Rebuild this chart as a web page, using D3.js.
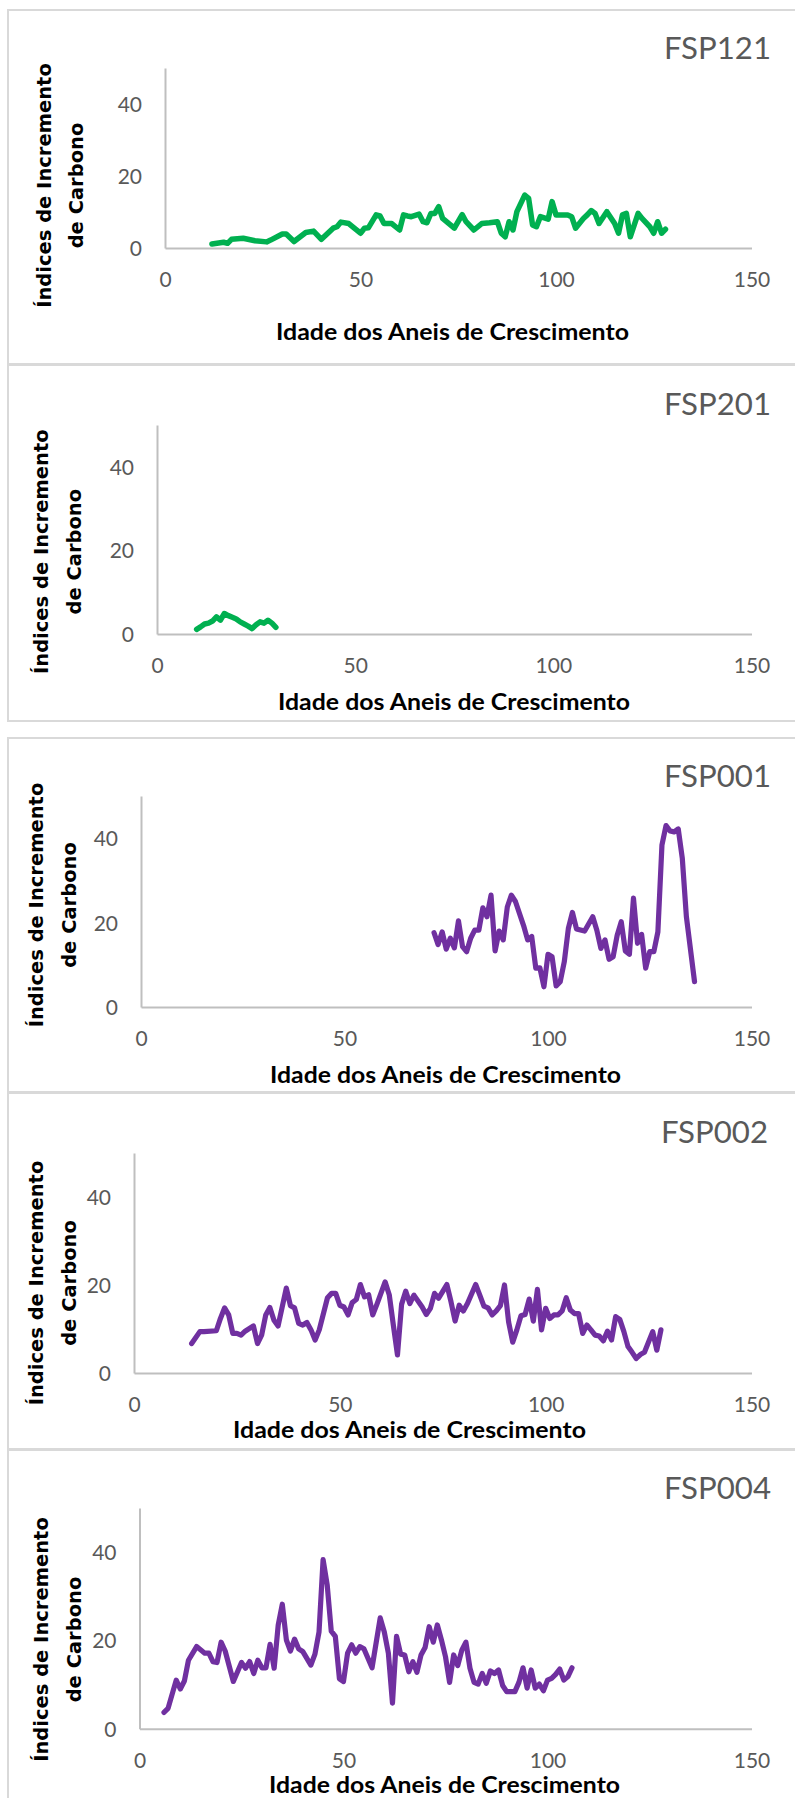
<!DOCTYPE html>
<html>
<head>
<meta charset="utf-8">
<script src="https://cdn.jsdelivr.net/npm/d3@7/dist/d3.min.js"></script>
<style>
  html, body { margin: 0; padding: 0; background: #fff; }
  svg { display: block; }
</style>
</head>
<body>
<svg id="chart" width="795" height="1798"></svg>
<script>
// Shared axis ticks
const xTicks = [0, 50, 100, 150];
const yTicks = [0, 20, 40];
const xDomain = [0, 150];
const yDomain = [0, 50];

const xAxisTitle = "Idade dos Aneis de Crescimento";
const yAxisTitle = ["Índices de Incremento", "de Carbono"];

// FSP121
const ages121 = [12,15,16,17,20,23,26,27,30,31,33,36,38,40,43,44,45,47,50,51,52,54,55,56,58,60,61,62,63,65,66,67,68,69,70,71,72,74,76,77,79,81,83,85,86,87,88,89,90,92,93,94,95,96,98,99,100,103,104,105,107,108,109,110,111,113,115,116,117,118,119,121,122,124,125,126,127,128];
const vals121 = [1.1,1.6,1.3,2.4,2.7,2.0,1.7,2.2,3.9,3.9,1.8,4.3,4.7,2.4,5.5,5.9,7.2,6.8,4.1,5.5,5.6,9.2,8.9,6.8,6.8,5.0,9.2,8.9,8.7,9.4,7.3,7.0,9.6,9.6,11.5,8.2,7.3,5.5,9.3,7.3,5.0,6.8,7.0,7.3,4.1,3.1,7.3,5.0,10.1,14.7,13.8,6.4,5.9,8.7,8.0,12.9,9.2,9.2,8.7,5.5,8.2,9.2,10.4,9.6,6.8,10.1,6.8,4.1,9.2,9.6,3.1,9.6,8.2,5.9,4.1,7.3,4.1,5.2];

// FSP201
const ages201 = [10,11,12,13,14,15,16,17,18,19,20,21,22,23,24,25,26,27,28,29,30];
const vals201 = [1.1,1.7,2.4,2.6,3.1,4.1,3.3,4.9,4.4,4.0,3.6,2.9,2.4,1.9,1.3,2.2,2.9,2.6,3.3,2.6,1.6];

// FSP001
const ages001 = [72,73,74,75,76,77,78,79,80,81,82,83,84,85,86,87,88,89,90,91,92,94,95,96,97,98,99,100,101,102,103,104,105,106,107,109,111,112,113,114,115,116,117,118,119,120,121,122,123,124,125,126,127,128,129,130,131,132,133,134,136];
const vals001 = [17.6,14.8,17.8,13.7,16.3,14.0,20.4,14.3,13.1,16.3,18.2,18.2,23.5,21.4,26.5,13.3,18.0,15.9,23.7,26.5,25.0,19.3,15.9,16.7,9.2,9.3,4.8,12.5,11.9,5.0,6.0,10.7,18.6,22.4,18.5,18.0,21.4,18.2,13.9,15.9,11.3,11.9,17.0,20.2,13.3,12.5,25.8,15.1,17.2,9.2,13.1,13.1,17.8,38.4,43.0,41.7,41.5,42.2,35.2,21.4,6.0];

// FSP002
const ages002 = [14,16,17,20,21,22,23,24,25,26,27,29,30,31,32,33,34,35,36,37,38,39,40,41,42,43,44,45,47,48,49,50,51,52,53,54,55,56,57,58,59,61,62,63,64,65,66,67,68,70,71,72,73,74,76,77,78,79,80,81,83,84,85,86,87,88,89,90,91,92,93,94,95,96,97,98,99,100,101,102,103,104,105,106,107,108,109,110,111,112,113,114,115,116,117,118,119,120,121,122,123,124,126,127,128];
const vals002 = [6.7,9.4,9.4,9.6,12.4,14.8,13.2,9.0,9.0,8.6,9.5,10.7,6.7,8.6,13.2,14.9,12.0,10.7,15.0,19.3,15.3,14.8,11.3,10.9,11.5,9.8,7.5,9.8,17.1,18.1,18.1,15.4,15.0,13.2,16.0,16.7,20.1,17.3,17.8,13.2,15.6,20.7,17.8,10.9,4.1,15.6,18.6,15.8,17.7,15.0,13.3,14.7,18.1,17.0,20.1,16.2,11.8,15.4,14.1,15.8,20.1,17.7,15.2,14.8,13.2,14.1,15.3,20.0,11.6,7.0,9.8,13.0,13.3,16.8,11.8,19.0,9.8,14.7,12.4,13.2,13.2,14.1,17.1,14.3,13.5,13.5,9.0,10.9,9.8,8.6,8.4,7.3,9.5,7.5,12.8,12.2,9.4,6.0,4.7,3.3,4.2,4.7,9.4,5.2,9.8];

// FSP004
const ages004 = [6,7,9,10,11,12,14,16,17,18,19,20,21,23,25,26,27,28,29,30,31,32,33,34,35,36,37,38,39,40,42,43,44,45,46,47,48,49,50,51,52,53,54,55,57,59,60,61,62,63,64,65,66,67,68,69,70,71,72,73,74,75,76,77,78,79,80,81,82,83,84,85,86,87,88,89,90,92,93,94,95,96,97,98,99,100,101,102,103,104,105,106];
const vals004 = [3.7,4.6,11.0,9.0,10.8,15.5,18.6,17.1,17.1,15.2,15.0,19.6,17.6,10.7,15.0,13.7,15.2,12.5,15.5,13.8,13.8,19.1,13.7,23.5,28.2,20.1,17.6,20.3,18.1,17.5,14.4,16.9,21.9,38.3,32.6,22.1,20.9,11.3,10.7,17.1,19.0,17.1,18.6,18.1,13.8,25.1,21.9,17.1,5.8,20.9,16.9,16.7,12.9,15.2,12.8,16.7,18.4,23.1,19.6,23.5,20.1,16.3,10.5,16.7,14.3,17.8,19.6,13.7,10.5,10.1,12.5,10.3,13.1,12.5,13.3,9.8,8.4,8.4,10.5,13.8,9.2,13.3,9.2,10.1,8.6,11.0,11.4,12.3,13.5,11.0,11.8,13.8];

const GREEN = "#00b050";
const PURPLE = "#7030a0";

// Panel frames and plot boxes (page layout)
const panels = [
  { name: "FSP121", ages: ages121, vals: vals121, color: GREEN, width: 5.5,
    top: 10, bottom: 364, left: 165, plotTop: 68, plotBottom: 248,
    titleY: 59, titleRight: 771, yl: [51, 83], ylMid: 185.5, xlY: 340, xlX: [276, 629] },
  { name: "FSP201", ages: ages201, vals: vals201, color: GREEN, width: 5.5,
    top: 365, bottom: 721, left: 157, plotTop: 425, plotBottom: 634,
    titleY: 415, titleRight: 771, yl: [48, 81], ylMid: 551.7, xlY: 710, xlX: [278, 630] },
  { name: "FSP001", ages: ages001, vals: vals001, color: PURPLE, width: 5.2,
    top: 738, bottom: 1092, left: 141, plotTop: 796, plotBottom: 1007,
    titleY: 786.7, titleRight: 771, yl: [43, 76], ylMid: 905, xlY: 1082.7, xlX: [270, 621] },
  { name: "FSP002", ages: ages002, vals: vals002, color: PURPLE, width: 5.2,
    top: 1093, bottom: 1449, left: 134, plotTop: 1153, plotBottom: 1373,
    titleY: 1142.7, titleRight: 768, yl: [43, 76], ylMid: 1283, xlY: 1438, xlX: [233, 586] },
  { name: "FSP004", ages: ages004, vals: vals004, color: PURPLE, width: 5.2,
    top: 1450, bottom: 1900, left: 139.5, plotTop: 1508, plotBottom: 1728.7,
    titleY: 1499, titleRight: 771, yl: [48, 81], ylMid: 1639.5, xlY: 1793, xlX: [269, 620] }
];
const plotRight = 751.5;

const svg = d3.select("#chart");
svg.append("rect").attr("width", 795).attr("height", 1798).attr("fill", "#fff");

panels.forEach(p => {
  const g = svg.append("g").attr("class", "panel");

  g.append("rect")
    .attr("x", 8).attr("y", p.top)
    .attr("width", 800).attr("height", p.bottom - p.top)
    .attr("fill", "none").attr("stroke", "#d9d9d9").attr("stroke-width", 2);

  const x = d3.scaleLinear().domain(xDomain).range([p.left, plotRight]);
  const y = d3.scaleLinear().domain(yDomain).range([p.plotBottom, p.plotTop]);

  // x axis
  const gx = g.append("g")
    .attr("transform", `translate(0,${p.plotBottom})`)
    .call(d3.axisBottom(x).tickValues(xTicks).tickSize(0).tickSizeOuter(0).tickFormat(d3.format("d")));
  gx.select(".domain").attr("stroke", "#bfbfbf").attr("stroke-width", 2);
  gx.selectAll("text")
    .attr("y", 39).attr("dy", 0)
    .attr("fill", "#595959")
    .style("font-family", "Lato, 'Open Sans', sans-serif")
    .style("font-size", "21px");

  // y axis
  const gy = g.append("g")
    .attr("transform", `translate(${p.left},0)`)
    .call(d3.axisLeft(y).tickValues(yTicks).tickSize(0).tickSizeOuter(0).tickPadding(23).tickFormat(d3.format("d")));
  gy.select(".domain").attr("stroke", "#bfbfbf").attr("stroke-width", 2);
  gy.selectAll("text")
    .attr("dy", "0.36em")
    .attr("fill", "#595959")
    .style("font-family", "Lato, 'Open Sans', sans-serif")
    .style("font-size", "21px");

  // series line
  const pts = p.ages.map((a, i) => [a, p.vals[i]]);
  g.append("path")
    .datum(pts)
    .attr("fill", "none")
    .attr("stroke", p.color)
    .attr("stroke-width", p.width)
    .attr("stroke-linejoin", "round")
    .attr("stroke-linecap", "round")
    .attr("d", d3.line().x(d => x(d[0])).y(d => y(d[1])));

  // panel title
  g.append("text")
    .attr("x", p.titleRight).attr("y", p.titleY)
    .attr("text-anchor", "end")
    .attr("fill", "#595959")
    .attr("textLength", 107).attr("lengthAdjust", "spacingAndGlyphs")
    .style("font-family", "Lato, sans-serif")
    .style("font-size", "31px")
    .text(p.name);

  // x axis title
  g.append("text")
    .attr("x", p.xlX[0]).attr("y", p.xlY)
    .attr("fill", "#000")
    .attr("textLength", p.xlX[1] - p.xlX[0]).attr("lengthAdjust", "spacingAndGlyphs")
    .style("font-family", "Lato, sans-serif")
    .style("font-weight", "bold")
    .style("font-size", "23px")
    .text(xAxisTitle);

  // y axis title (two lines, rotated)
  yAxisTitle.forEach((line, i) => {
    g.append("text")
      .attr("transform", `translate(${p.yl[i]},${p.ylMid}) rotate(-90)`)
      .attr("text-anchor", "middle")
      .attr("fill", "#000")
      .style("font-family", "'DejaVu Sans', sans-serif")
      .style("font-weight", "bold")
      .style("font-size", "19.5px")
      .text(line);
  });
});
</script>
</body>
</html>
